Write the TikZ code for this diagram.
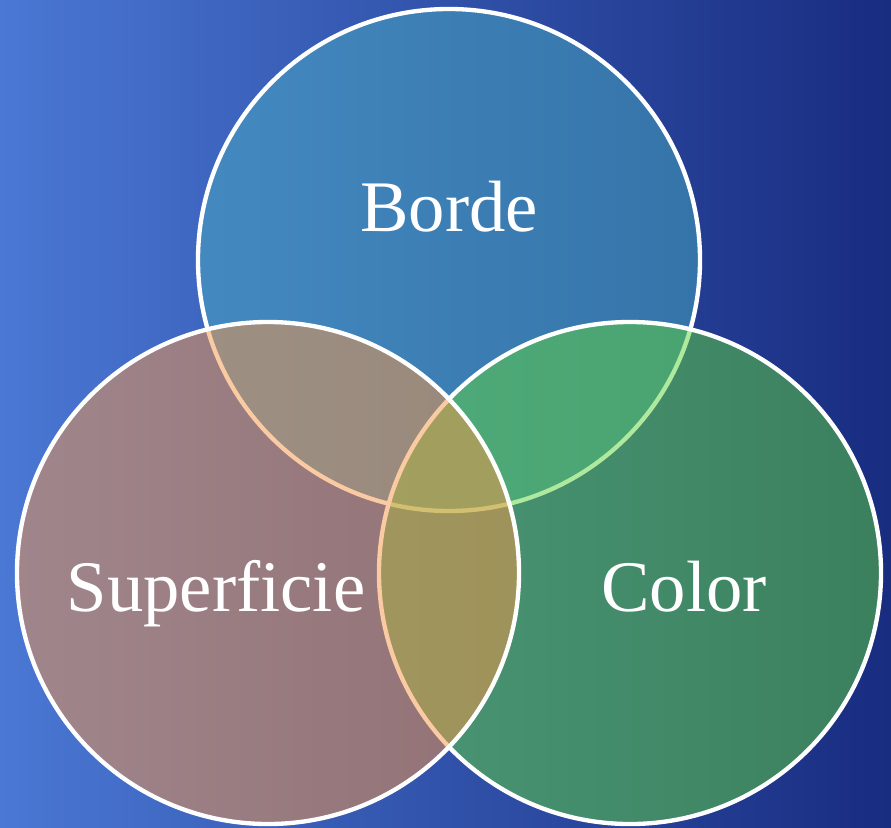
\documentclass[tikz,border=0pt]{standalone}
\usepackage{fontspec}
\setmainfont{Liberation Serif}
\definecolor{bgleft}{RGB}{74,120,212}
\definecolor{bgright}{RGB}{24,44,128}
\definecolor{aqua}{RGB}{72,172,192}
\definecolor{leaf}{RGB}{95,212,60}
\definecolor{peach}{RGB}{247,150,70}
\tikzset{
  setcircle/.style={circle, inner sep=0pt, minimum size=15.06cm,
    draw=white, line width=0.13cm, fill opacity=0.5, draw opacity=1},
  setlabel/.style={text=white, anchor=base, font=\fontsize{62}{62}\selectfont}
}

\begin{document}
\begin{tikzpicture}[x=0.03cm, y=-0.03cm]
\useasboundingbox (0,0) rectangle (891,827);
\shade[left color=bgleft, right color=bgright] (0,0) rectangle (891,827);
% the three sets, top one drawn first
\node[setcircle, fill=aqua] (borde) at (449,260) {};
\node[setcircle, fill=leaf] (color) at (630,573) {};
\node[setcircle, fill=peach] (superficie) at (268,573) {};
\node[setlabel] (bordetext) at (449,231) {Borde};
\node[setlabel] (colortext) at (684,611) {Color};
\node[setlabel] (superficietext) at (216,611) {Superficie};
\end{tikzpicture}
\end{document}
